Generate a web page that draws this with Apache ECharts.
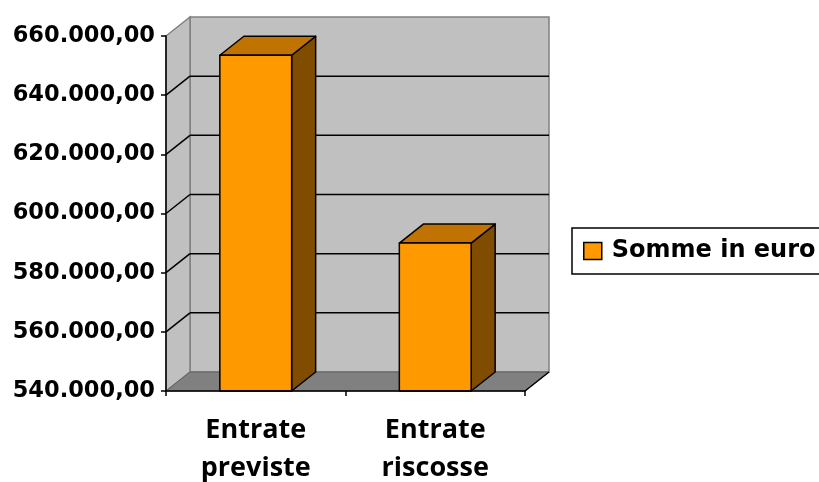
<!DOCTYPE html>
<html><head><meta charset="utf-8">
<script src="https://cdn.jsdelivr.net/npm/echarts@6/dist/echarts.min.js"></script>
<style>html,body{margin:0;padding:0;background:#fff}#c{width:819px;height:482px}</style>
</head><body><div id="c"></div>
<script>
const categories = ['Entrate\npreviste', 'Entrate\nriscosse'];
const seriesName = 'Somme in euro';
const values = [653500, 590000];
const yMin = 540000, yMax = 660000, yStep = 20000;

const DX = 24, DY = -19;

function fmt(v){
  const s = Math.round(v).toString().replace(/\B(?=(\d{3})+(?!\d))/g, '.');
  return s + ',00';
}

const chart = echarts.init(document.getElementById('c'), null, {renderer:'canvas'});
chart.setOption({
  backgroundColor:'#fff',
  animation:false,
  grid:{left:166, top:36, width:359, height:355, containLabel:false, outerBoundsMode:'none'},
  legend:{
    left:572, top:228, orient:'vertical',
    data:[{name:seriesName, icon:'rect', itemStyle:{color:'#ff9900', borderColor:'#000', borderWidth:1.5}}],
    itemWidth:18, itemHeight:17,
    borderColor:'#000', borderWidth:1.5, padding:[11, 40, 11, 11],
    textStyle:{fontFamily:'DejaVu Sans', fontWeight:'bold', fontSize:24, color:'#000', padding:[0,0,0,5]},
    selectedMode:false
  },
  xAxis:{
    type:'category', data:categories, z:5,
    axisLine:{show:true, lineStyle:{color:'#000', width:1.5}},
    axisTick:{show:true, length:5, lineStyle:{color:'#000', width:1.5}},
    axisLabel:{fontFamily:'Open Sans', fontWeight:'bold', fontSize:27, color:'#000', lineHeight:38, margin:20},
    splitLine:{show:false}
  },
  yAxis:{
    type:'value', min:yMin, max:yMax, interval:yStep, z:5,
    axisLine:{show:true, lineStyle:{color:'#000', width:1.5}},
    axisTick:{show:true, length:5, lineStyle:{color:'#000', width:1.5}},
    axisLabel:{fontFamily:'DejaVu Sans', fontWeight:'bold', fontSize:22.5, color:'#000', margin:11, formatter:fmt},
    splitLine:{show:false}
  },
  series:[
    {
      type:'custom', name:'walls', silent:true, z:1,
      data:[[0, yMin]],
      renderItem:function(params, api){
        const cs = params.coordSys;
        const x0 = cs.x, x1 = cs.x + cs.width, yT = cs.y, yB = cs.y + cs.height;
        const ch = [];
        ch.push({type:'rect', shape:{x:x0+DX, y:yT+DY, width:cs.width, height:cs.height},
          style:{fill:'#c0c0c0', stroke:'#808080', lineWidth:1.5}});
        ch.push({type:'polygon', shape:{points:[[x0,yT],[x0+DX,yT+DY],[x0+DX,yB+DY],[x0,yB]]},
          style:{fill:'#c0c0c0', stroke:'#808080', lineWidth:1.5}});
        ch.push({type:'polygon', shape:{points:[[x0,yB],[x1,yB],[x1+DX,yB+DY],[x0+DX,yB+DY]]},
          style:{fill:'#808080', stroke:'#606060', lineWidth:1}});
        for(let v=yMin+yStep; v<yMax; v+=yStep){
          const y = api.coord([0, v])[1];
          ch.push({type:'line', shape:{x1:x0, y1:y, x2:x0+DX, y2:y+DY}, style:{stroke:'#000', lineWidth:1.5}});
          ch.push({type:'line', shape:{x1:x0+DX, y1:y+DY, x2:x1+DX, y2:y+DY}, style:{stroke:'#000', lineWidth:1.5}});
        }
        ch.push({type:'line', shape:{x1:x1, y1:yB, x2:x1+DX, y2:yB+DY}, style:{stroke:'#000', lineWidth:1.5}});
        return {type:'group', children:ch};
      }
    },
    {
      type:'custom', name:seriesName, z:3,
      itemStyle:{color:'#ff9900'},
      data:values.map((v,i)=>[i, v]),
      renderItem:function(params, api){
        const i = api.value(0), v = api.value(1);
        const base = api.coord([i, yMin]);
        const top = api.coord([i, v]);
        const bw = api.size([1, 0])[0];
        const w = bw * 0.4;
        const x = base[0] - w/2, yt = top[1], yb = base[1];
        const st = {stroke:'#000', lineWidth:1.5, lineJoin:'round'};
        return {type:'group', children:[
          {type:'polygon', shape:{points:[[x+w,yt],[x+w+DX,yt+DY],[x+w+DX,yb+DY],[x+w,yb]]},
            style:Object.assign({fill:'#7f4c00'}, st)},
          {type:'polygon', shape:{points:[[x,yt],[x+w,yt],[x+w+DX,yt+DY],[x+DX,yt+DY]]},
            style:Object.assign({fill:'#c07300'}, st)},
          {type:'rect', shape:{x:x, y:yt, width:w, height:yb-yt},
            style:Object.assign({fill:'#ff9900'}, st)}
        ]};
      }
    }
  ]
});
</script></body></html>
